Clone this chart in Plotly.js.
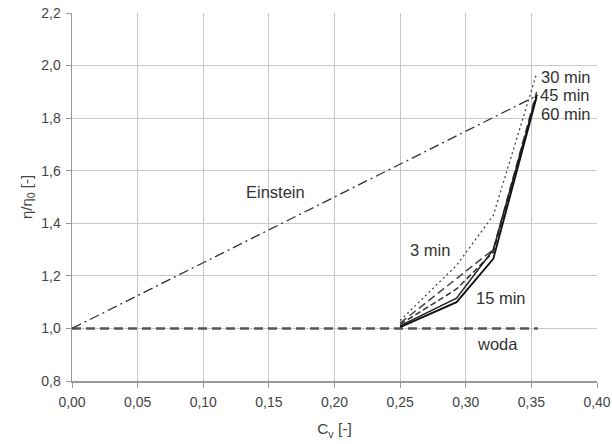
<!DOCTYPE html>
<html>
<head>
<meta charset="utf-8">
<script src="https://cdn.plot.ly/plotly-3.0.1.min.js"></script>
<style>html,body{margin:0;padding:0;background:#fff;}#chart{width:612px;height:444px;}</style>
</head>
<body>
<div id="chart"></div>
<script>
// Data
const cv = [0.25, 0.293, 0.321, 0.354];
const eta3 = [1.03, 1.24, 1.43, 1.97];
const eta15 = [1.02, 1.19, 1.30, 1.90];
const eta30 = [1.015, 1.15, 1.29, 1.89];
const eta45 = [1.01, 1.115, 1.30, 1.885];
const eta60 = [1.005, 1.10, 1.265, 1.88];
const einsteinX = [0.0, 0.355];
const einsteinY = [1.0, 1.8875];
const wodaX = [0.0, 0.355];
const wodaY = [1.0, 1.0];

const xTickVals = [0, 0.05, 0.10, 0.15, 0.20, 0.25, 0.30, 0.35, 0.40];
const xTickText = ["0,00","0,05","0,10","0,15","0,20","0,25","0,30","0,35","0,40"];
const yTickVals = [0.8, 1.0, 1.2, 1.4, 1.6, 1.8, 2.0, 2.2];
const yTickText = ["0,8","1,0","1,2","1,4","1,6","1,8","2,0","2,2"];

const labels = [
  {text: "Einstein", x: 0.1554, y: 1.52, xanchor: "center"},
  {text: "3 min", x: 0.2728, y: 1.30, xanchor: "center"},
  {text: "15 min", x: 0.327, y: 1.117, xanchor: "center"},
  {text: "woda", x: 0.3245, y: 0.94, xanchor: "center"},
  {text: "30 min", x: 0.3555, y: 1.958, xanchor: "left"},
  {text: "45 min", x: 0.3548, y: 1.8875, xanchor: "left"},
  {text: "60 min", x: 0.3555, y: 1.815, xanchor: "left"}
];

const traces = [
  {x: wodaX, y: wodaY, mode: "lines", line: {color: "#555", width: 2.5, dash: "9px,5px"}},
  {x: einsteinX, y: einsteinY, mode: "lines", line: {color: "#333", width: 1.3, dash: "10px,4px,2px,4px"}},
  {x: cv, y: eta3, mode: "lines", line: {color: "#444", width: 1.3, dash: "2px,3px"}},
  {x: cv, y: eta15, mode: "lines", line: {color: "#444", width: 1.5, dash: "8px,4px"}},
  {x: cv, y: eta30, mode: "lines", line: {color: "#333", width: 1.5, dash: "6px,3px"}},
  {x: cv, y: eta45, mode: "lines", line: {color: "#222", width: 1.5}},
  {x: cv, y: eta60, mode: "lines", line: {color: "#111", width: 1.8}}
];

const font = {family: "Liberation Sans, Arial, sans-serif", size: 14, color: "#333"};

const layout = {
  width: 612, height: 444,
  margin: {l: 72, r: 15, t: 13, b: 63},
  showlegend: false,
  paper_bgcolor: "#fff", plot_bgcolor: "#fff",
  font: font,
  xaxis: {
    range: [0, 0.4], tickvals: xTickVals, ticktext: xTickText,
    showgrid: true, gridcolor: "#c8c8c8", gridwidth: 1,
    showline: true, linecolor: "#999", linewidth: 1.5,
    ticks: "outside", ticklen: 5, tickcolor: "#999",
    ticklabelstandoff: 3,
    zeroline: false, tickfont: {size: 14, color: "#444"},
    title: {text: "C<sub>v</sub> [-]", font: {size: 15.5, color: "#444"}, standoff: 14}
  },
  yaxis: {
    range: [0.8, 2.2], tickvals: yTickVals, ticktext: yTickText,
    showgrid: true, gridcolor: "#c8c8c8", gridwidth: 1,
    showline: true, linecolor: "#999", linewidth: 1.5,
    ticks: "outside", ticklen: 5, tickcolor: "#999",
    ticklabelstandoff: 2,
    zeroline: false, tickfont: {size: 14, color: "#444"},
    title: {text: "η/η<sub>0</sub> [-]", font: {size: 15, color: "#444"}, standoff: 5}
  },
  annotations: labels.map(l => ({
    text: l.text, x: l.x, y: l.y, xref: "x", yref: "y",
    xanchor: l.xanchor, yanchor: "middle", showarrow: false,
    font: {size: 16.5, color: "#333"}
  }))
};

Plotly.newPlot("chart", traces, layout, {staticPlot: true});
</script>
</body>
</html>
